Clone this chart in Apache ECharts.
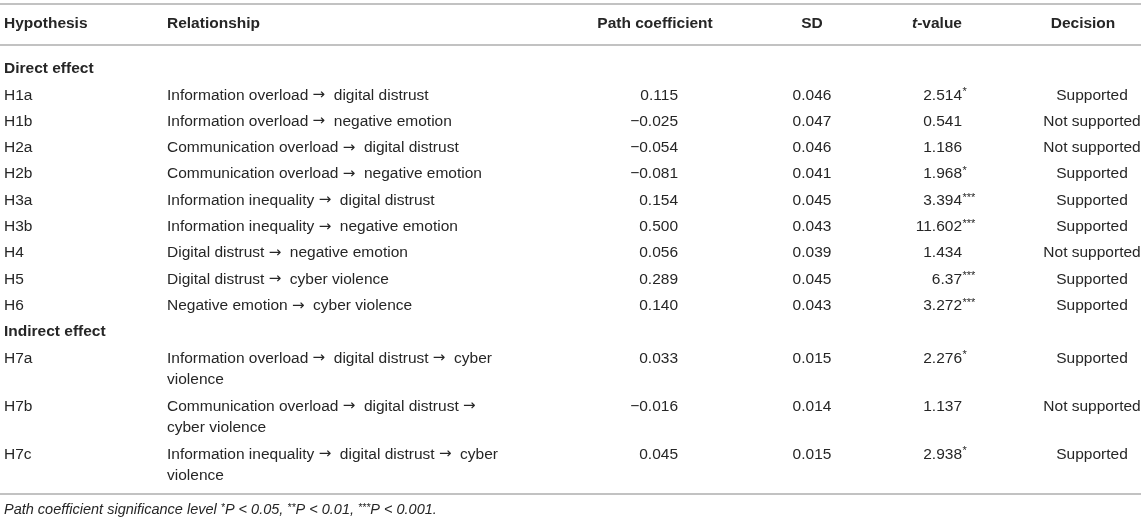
<!DOCTYPE html>
<html><head><meta charset="utf-8">
<script src="https://cdn.jsdelivr.net/npm/echarts@6/dist/echarts.min.js"></script>
<style>html,body{margin:0;padding:0;background:#fff}#c{width:1145px;height:524px}</style>
</head><body><div id="c"></div>
<script>
// ---------- table content ----------
const headers = ['Hypothesis', 'Relationship', 'Path coefficient', 'SD', 't-value', 'Decision'];
const sections = ['Direct effect', 'Indirect effect'];
const hypotheses = ['H1a', 'H1b', 'H2a', 'H2b', 'H3a', 'H3b', 'H4', 'H5', 'H6', 'H7a', 'H7b', 'H7c'];
const sectionOf = [0, 0, 0, 0, 0, 0, 0, 0, 0, 1, 1, 1];
const relationships = [
  ['Information overload \u2192  digital distrust'],
  ['Information overload \u2192  negative emotion'],
  ['Communication overload \u2192  digital distrust'],
  ['Communication overload \u2192  negative emotion'],
  ['Information inequality \u2192  digital distrust'],
  ['Information inequality \u2192  negative emotion'],
  ['Digital distrust \u2192  negative emotion'],
  ['Digital distrust \u2192  cyber violence'],
  ['Negative emotion \u2192  cyber violence'],
  ['Information overload \u2192  digital distrust \u2192  cyber', 'violence'],
  ['Communication overload \u2192  digital distrust \u2192', 'cyber violence'],
  ['Information inequality \u2192  digital distrust \u2192  cyber', 'violence']
];
const pathCoefficients = [0.115, -0.025, -0.054, -0.081, 0.154, 0.500, 0.056, 0.289, 0.140, 0.033, -0.016, 0.045];
const sds = [0.046, 0.047, 0.046, 0.041, 0.045, 0.043, 0.039, 0.045, 0.043, 0.015, 0.014, 0.015];
const tValues = ['2.514', '0.541', '1.186', '1.968', '3.394', '11.602', '1.434', '6.37', '3.272', '2.276', '1.137', '2.938'];
const significance = ['*', '', '', '*', '***', '***', '', '***', '***', '*', '', '*'];
const decisions = ['Supported', 'Not supported', 'Not supported', 'Supported', 'Supported', 'Supported',
  'Not supported', 'Supported', 'Supported', 'Supported', 'Not supported', 'Supported'];
const footnoteParts = ['Path coefficient significance level ', '*', 'P < 0.05, ', '**', 'P < 0.01, ', '***', 'P < 0.001.'];

// ---------- layout (kept apart from the data) ----------
const FONT = "'Liberation Sans', Arial, Helvetica, sans-serif";
const ARROW_FONT = "'DejaVu Sans', sans-serif";
const FS = 15.5;
const TEXT = '#262626';
const RULE = '#c2c2c2';
const col = {
  hyp: { x: 4, align: 'left' },
  rel: { x: 167, align: 'left' },
  pcH: { x: 655, align: 'center' }, pc: { x: 678, align: 'right' },
  sdH: { x: 812, align: 'center' }, sd: { x: 812, align: 'center' },
  tH: { x: 937, align: 'center' }, t: { x: 962, align: 'right' },
  decH: { x: 1083, align: 'center' }, dec: { x: 1092, align: 'center' }
};
const headerY = 24, firstSectionY = 69, rowStep = 26.3, lineStep = 21.7, twoLineStep = 48;
const ruleYs = [4, 45, 494];
const footY = 510;
const tableRight = 1141;

function fmt(v) { return v.toFixed(3).replace('-', '\u2212'); }
function arrowRich(s) {
  return s.split('\u2192').map(p => '{n|' + p + '}').join('{a|\u2192}');
}

// ---------- build cells ----------
const cells = [];
function add(x, y, text, align, extra) {
  cells.push(Object.assign({ value: [x, y], text: text, align: align }, extra || {}));
}
const headerCols = [col.hyp, col.rel, col.pcH, col.sdH, col.tH, col.decH];
headers.forEach((h, i) => {
  const c = headerCols[i];
  if (h === 't-value') {
    add(c.x, headerY, '{i|t}{b|-value}', c.align, { rich: 'head' });
  } else {
    add(c.x, headerY, h, c.align, { bold: true });
  }
});

let y = firstSectionY;
let lastSection = -1;
hypotheses.forEach((h, i) => {
  if (sectionOf[i] !== lastSection) {
    lastSection = sectionOf[i];
    add(col.hyp.x, y, sections[lastSection], 'left', { bold: true });
    y += rowStep;
  }
  add(col.hyp.x, y, h, 'left');
  relationships[i].forEach((line, k) => add(col.rel.x, y + k * lineStep, arrowRich(line), 'left', { rich: 'arrow' }));
  add(col.pc.x, y, fmt(pathCoefficients[i]), 'right');
  add(col.sd.x, y, sds[i].toFixed(3), 'center');
  add(col.t.x, y, tValues[i], 'right');
  if (significance[i]) add(col.t.x + 0.5, y - 3, significance[i], 'left', { small: true });
  add(col.dec.x, y, decisions[i], 'center');
  y += relationships[i].length > 1 ? twoLineStep : rowStep;
});

add(4, footY, footnoteParts.map((p, k) => (k % 2 === 1 ? '{s|' + p + '}' : '{n|' + p + '}')).join(''), 'left', { rich: 'foot' });

const richStyles = {
  head: {
    i: { fontFamily: FONT, fontSize: FS, fontWeight: 'bold', fontStyle: 'italic', fill: TEXT },
    b: { fontFamily: FONT, fontSize: FS, fontWeight: 'bold', fill: TEXT }
  },
  arrow: {
    n: { fontFamily: FONT, fontSize: FS, fill: TEXT },
    a: { fontFamily: ARROW_FONT, fontSize: 15, fill: TEXT }
  },
  foot: {
    n: { fontFamily: FONT, fontSize: 14.5, fontStyle: 'italic', fill: TEXT },
    s: { fontFamily: FONT, fontSize: 10.5, fontStyle: 'italic', fill: TEXT, verticalAlign: 'top' }
  }
};

// ---------- chart ----------
const chart = echarts.init(document.getElementById('c'), null, { renderer: 'canvas' });
chart.setOption({
  animation: false,
  backgroundColor: '#fff',
  grid: { left: 0, right: 0, top: 0, bottom: 0 },
  xAxis: { type: 'value', min: 0, max: 1145, show: false },
  yAxis: { type: 'value', min: 0, max: 524, inverse: true, show: false },
  tooltip: { show: false },
  series: [
    {
      type: 'custom',
      silent: true,
      data: ruleYs.map(v => [0, v]),
      renderItem: function (params, api) {
        const a = api.coord([api.value(0), api.value(1)]);
        const b = api.coord([tableRight, api.value(1)]);
        return { type: 'line', shape: { x1: a[0], y1: a[1], x2: b[0], y2: b[1] }, style: { stroke: RULE, lineWidth: 2 } };
      }
    },
    {
      type: 'custom',
      silent: true,
      data: cells.map(c => c.value),
      renderItem: function (params, api) {
        const c = cells[params.dataIndex];
        const p = api.coord([api.value(0), api.value(1)]);
        const style = {
          text: c.text, fill: TEXT, fontFamily: FONT, fontSize: FS,
          fontWeight: c.bold ? 'bold' : 'normal', align: c.align, verticalAlign: 'middle'
        };
        if (c.small) { style.fontSize = 11; }
        if (c.rich) { style.rich = richStyles[c.rich]; }
        return { type: 'text', x: p[0], y: p[1], style: style };
      }
    }
  ]
});
</script>
</body></html>
